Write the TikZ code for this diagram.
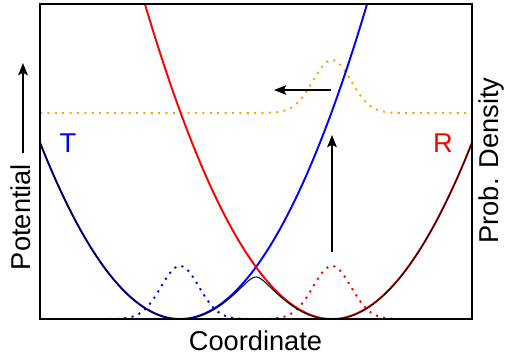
\documentclass[tikz,border=0pt]{standalone}
\usepackage{fontspec}
\setmainfont{Liberation Sans}
\usetikzlibrary{arrows.meta, positioning}
\definecolor{dorange}{RGB}{255,165,0}

\begin{document}
\begin{tikzpicture}[
    pes/.style={line width=1.1pt},
    adiab/.style={black, line width=0.7pt, opacity=0.85},
    wave/.style={line width=1.1pt, dash pattern=on 1.2pt off 3pt},
    lbl/.style={font=\fontsize{15.5}{18}\selectfont, inner sep=0pt},
    arr/.style={-{Stealth[length=7pt, width=5.5pt, inset=1.5pt]}, line width=0.8pt},
    declare function={
        VT(\x)=0.45*(\x-2.8)*(\x-2.8);
        VR(\x)=0.45*(\x-5.84)*(\x-5.84);
        VA(\x)=0.5*(VT(\x)+VR(\x))-sqrt(0.25*(VT(\x)-VR(\x))*(VT(\x)-VR(\x))+0.04);
        G(\x,\c)=1.06*exp(-((\x-\c)*(\x-\c))/0.29);
    }
]
    \useasboundingbox (-0.8,-0.74) rectangle (9.32,6.38);
    % Curves, clipped to the frame
    \begin{scope}
        \clip (0,0) rectangle (8.64,6.3);
        % Wave packets
        \draw[wave, blue, domain=0.8:4.8, samples=100] plot (\x, {G(\x,2.8)});
        \draw[wave, red, domain=3.84:7.84, samples=100] plot (\x, {G(\x,5.84)});
        \draw[wave, dorange, domain=0:8.64, samples=200] plot (\x, {4.12+G(\x,5.84)});
        % Diabatic potentials
        \draw[pes, blue, domain=0:6.7, samples=120] plot (\x, {VT(\x)});
        \draw[pes, red, domain=2:8.64, samples=120] plot (\x, {VR(\x)});
        % Adiabatic ground state
        \draw[adiab, domain=0:8.64, samples=200] plot (\x, {VA(\x)});
    \end{scope}
    \draw[line width=1.5pt] (0,0) rectangle (8.64,6.3);
    % Arrows
    \coordinate (up0) at (5.84,1.34);
    \coordinate (up1) at (5.84,3.68);
    \coordinate (left0) at (5.82,4.58);
    \coordinate (left1) at (4.68,4.58);
    \coordinate (pot0) at (-0.34,3.32);
    \coordinate (pot1) at (-0.34,5.12);
    \draw[arr, line width=0.6pt] (up0) -- (up1);
    \draw[arr] (left0) -- (left1);
    \draw[arr] (pot0) -- (pot1);
    % Labels
    \node[lbl, blue] (tlab) at (0.56,3.52) {T};
    \node[lbl, red] (rlab) at (8.06,3.52) {R};
    \node[lbl] (xlab) at (4.31,-0.44) {Coordinate};
    \node[lbl, rotate=90] (ylab) at (-0.38,2.04) {Potential};
    \node[lbl, rotate=90] (y2lab) at (9.02,3.17) {Prob. Density};
\end{tikzpicture}
\end{document}
